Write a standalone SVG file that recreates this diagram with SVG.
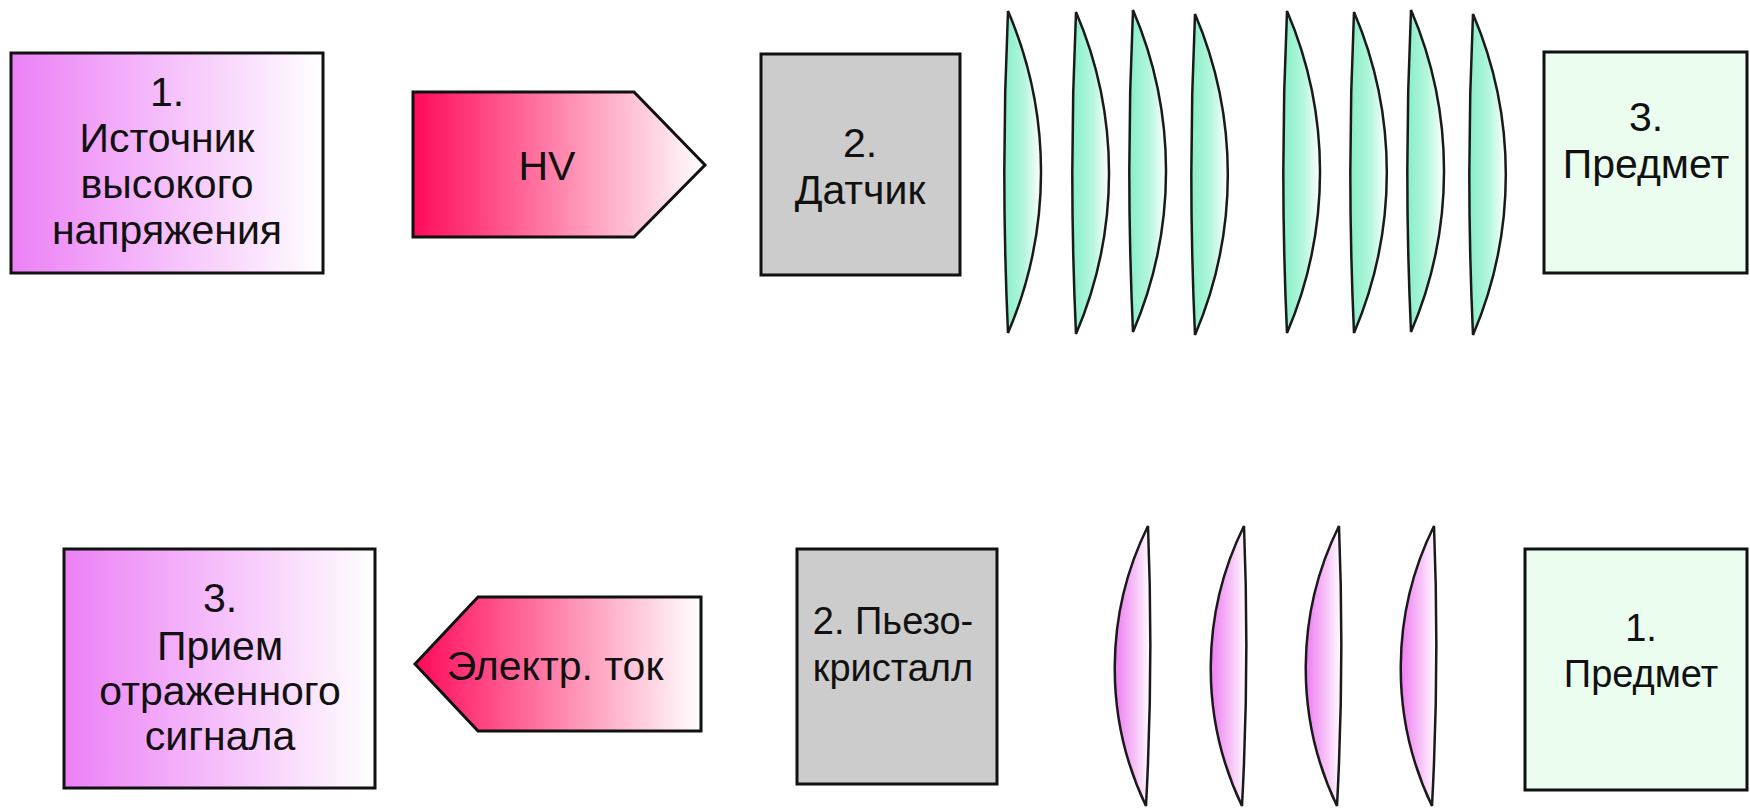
<svg xmlns="http://www.w3.org/2000/svg" width="1750" height="810" viewBox="0 0 1750 810">
<defs>
<linearGradient id="gViolet" x1="0" y1="0" x2="1" y2="0"><stop offset="0" stop-color="#ec80f6"/><stop offset="1" stop-color="#ffffff"/></linearGradient>
<linearGradient id="gRed" x1="0" y1="0" x2="1" y2="0"><stop offset="0" stop-color="#ff0a5a"/><stop offset="1" stop-color="#ffffff"/></linearGradient>
<linearGradient id="gTeal" x1="0" y1="0" x2="1" y2="0"><stop offset="0" stop-color="#86efc8"/><stop offset="0.55" stop-color="#b6f6de"/><stop offset="1" stop-color="#ffffff"/></linearGradient>
<linearGradient id="gPink" x1="0" y1="0" x2="1" y2="0"><stop offset="0" stop-color="#ee7cf2"/><stop offset="0.6" stop-color="#f8c6f8"/><stop offset="1" stop-color="#ffffff"/></linearGradient>
<style>
.box{stroke:#111;stroke-width:3}
.gray{fill:#cccccc}
.green{fill:#eafdef}
.violet{fill:url(#gViolet)}
.red{fill:url(#gRed)}
.teal{fill:url(#gTeal);stroke:#1a1a1a;stroke-width:2.5}
.pink{fill:url(#gPink);stroke:#1a1a1a;stroke-width:2.5}
text{font-family:"Liberation Sans",Arial,sans-serif;font-size:41px;fill:#111;text-anchor:middle}
.md{font-size:38px}
</style>
</defs>
<g id="source">
<rect class="box violet" x="11" y="53" width="312" height="220"/>
<text x="167" y="106">1.</text>
<text x="167" y="152">Источник</text>
<text x="167" y="198">высокого</text>
<text x="167" y="244">напряжения</text>
</g>
<g id="hv">
<polygon class="box red" points="413,92 634,92 705,165 634,237 413,237"/>
<text x="547" y="180">HV</text>
</g>
<g id="sensor">
<rect class="box gray" x="761" y="54" width="199" height="221"/>
<text x="860" y="157">2.</text>
<text x="860" y="204">Датчик</text>
</g>
<g id="waves-out">
<path class="teal" d="M1008,11 A409,409 0 0 1 1008,333 A3500,3500 0 0 1 1008,11 Z"/>
<path class="teal" d="M1076,12 A409,409 0 0 1 1076,334 A3500,3500 0 0 1 1076,12 Z"/>
<path class="teal" d="M1133,10 A409,409 0 0 1 1133,332 A3500,3500 0 0 1 1133,10 Z"/>
<path class="teal" d="M1195,14 A409,409 0 0 1 1195,335 A3500,3500 0 0 1 1195,14 Z"/>
<path class="teal" d="M1287,11 A409,409 0 0 1 1287,333 A3500,3500 0 0 1 1287,11 Z"/>
<path class="teal" d="M1354,12 A409,409 0 0 1 1354,333 A3500,3500 0 0 1 1354,12 Z"/>
<path class="teal" d="M1411,10 A409,409 0 0 1 1411,332 A3500,3500 0 0 1 1411,10 Z"/>
<path class="teal" d="M1473,14 A409,409 0 0 1 1473,335 A3500,3500 0 0 1 1473,14 Z"/>
</g>
<g id="object-top">
<rect class="box green" x="1544" y="52" width="203" height="221"/>
<text x="1646" y="131">3.</text>
<text x="1646" y="178">Предмет</text>
</g>
<g id="receiver">
<rect class="box violet" x="64" y="549" width="311" height="239"/>
<text x="220" y="612">3.</text>
<text x="220" y="660">Прием</text>
<text x="220" y="705">отраженного</text>
<text x="220" y="750">сигнала</text>
</g>
<g id="current">
<polygon class="box red" points="415,664 478,597 701,597 701,731 478,731"/>
<text x="555" y="680">Электр. ток</text>
</g>
<g id="piezo">
<rect class="box gray" x="797" y="549" width="200" height="235"/>
<text class="md" x="893" y="634">2. Пьезо-</text>
<text class="md" x="893" y="681">кристалл</text>
</g>
<g id="waves-back">
<path class="pink" d="M1148,526 A3000,3000 0 0 1 1146,806 A320,320 0 0 1 1148,526 Z"/>
<path class="pink" d="M1244,526 A3000,3000 0 0 1 1242,806 A320,320 0 0 1 1244,526 Z"/>
<path class="pink" d="M1339,526 A3000,3000 0 0 1 1337,806 A320,320 0 0 1 1339,526 Z"/>
<path class="pink" d="M1434,526 A3000,3000 0 0 1 1432,806 A320,320 0 0 1 1434,526 Z"/>
</g>
<g id="object-bottom">
<rect class="box green" x="1525" y="549" width="222" height="241"/>
<text class="md" x="1641" y="641">1.</text>
<text class="md" x="1641" y="687">Предмет</text>
</g>
<g id="connectors"></g>
</svg>
